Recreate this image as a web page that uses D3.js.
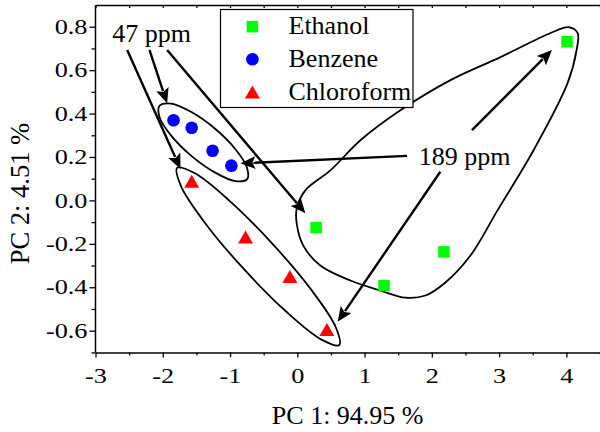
<!DOCTYPE html>
<html><head><meta charset="utf-8">
<script src="https://cdn.jsdelivr.net/npm/d3@7"></script>
<style>
body{margin:0;background:#fff}
svg{display:block}
text{font-family:"Liberation Serif","Times New Roman",serif;fill:#000}
</style>
</head><body>
<svg id="chart" width="600" height="432" font-family="Liberation Serif, Times New Roman, serif"></svg>
<script>
// ---------- data ----------
const seriesNames = ["Ethanol", "Benzene", "Chloroform"];
const seriesColors = ["#00ff00", "#0000ff", "#ff0000"];
const ethanolX = [0.28, 1.29, 2.18, 4.01];
const ethanolY = [-0.125, -0.393, -0.237, 0.731];
const benzeneX = [-1.84, -1.57, -1.26, -0.98];
const benzeneY = [0.369, 0.335, 0.229, 0.160];
const chloroformX = [-1.57, -0.77, -0.11, 0.44];
const chloroformY = [0.088, -0.169, -0.351, -0.594];
const xTicks = [-3, -2, -1, 0, 1, 2, 3, 4];
const yTicks = [-0.6, -0.4, -0.2, 0.0, 0.2, 0.4, 0.6, 0.8];
const xMinor = [-2.5, -1.5, -0.5, 0.5, 1.5, 2.5, 3.5, 4.5];
const yMinor = [-0.7, -0.5, -0.3, -0.1, 0.1, 0.3, 0.5, 0.7];
const xLabel = "PC 1: 94.95 %";
const yLabel = "PC 2: 4.51 %";
// annotation outlines (data units)
const benzeneLoop = [[-0.746,0.098],[-0.923,0.089],[-1.220,0.128],[-1.571,0.204],[-1.872,0.297],[-2.048,0.383],[-2.049,0.436],[-1.875,0.446],[-1.574,0.407],[-1.226,0.331],[-0.926,0.238],[-0.750,0.153]];
const chloroformLoop = [[0.625,-0.666],[0.360,-0.641],[-0.158,-0.514],[-0.789,-0.318],[-1.366,-0.106],[-1.729,0.066],[-1.787,0.150],[-1.521,0.125],[-1.003,-0.003],[-0.372,-0.199],[0.206,-0.411],[0.569,-0.582]];
const ethanolLoop = [[-0.010,-0.040],[0.119,0.046],[0.491,0.138],[0.938,0.277],[1.533,0.415],[2.277,0.554],[3.021,0.660],[3.765,0.771],[4.033,0.798],[4.167,0.771],[4.152,0.692],[4.018,0.540],[3.512,0.231],[2.976,-0.046],[2.574,-0.254],[2.202,-0.378],[1.905,-0.438],[1.607,-0.448],[1.235,-0.415],[0.789,-0.369],[0.342,-0.300],[0.089,-0.208],[-0.005,-0.115]];
// arrows: [x0, y0, x1, y1] in data units, head at the second point
const arrows = [[-2.529,0.693,-1.737,0.145],[-2.198,0.693,-1.935,0.447],[-1.935,0.693,0.120,-0.059],[1.632,0.205,-0.845,0.171],[2.597,0.324,3.786,0.693],[2.126,0.132,0.600,-0.559]];
const noteText = ["47 ppm", "189 ppm"];
const noteX = [-2.752, 1.804];
const noteY = [0.731, 0.163];

// ---------- layout ----------
const serif = '"Liberation Serif","Times New Roman",serif';
const svg = d3.select("#chart");
const x = d3.scaleLinear().domain([-3, 4.5]).range([95.5, 600]);
const y = d3.scaleLinear().domain([-0.7, 0.9]).range([352.4, 5]);
const L = 95.5, B = 352.4, T = 5;

// ---------- axes ----------
const fmtY = d => d.toFixed(1);
const bottomAxis = svg.append("g").attr("transform", `translate(0,${B})`)
  .call(d3.axisBottom(x).tickValues(xTicks).tickFormat(d => String(d)).tickSize(5).tickSizeOuter(0));
bottomAxis.append("g").call(d3.axisBottom(x).tickValues(xMinor).tickFormat("").tickSize(3).tickSizeOuter(0))
  .select(".domain").remove();
bottomAxis.selectAll(".tick text").attr("y", 30.3).attr("dy", 0)
  .style("font-size", "21px").attr("transform", "scale(1.25,1)");

const leftAxis = svg.append("g").attr("transform", `translate(${L},0)`)
  .call(d3.axisLeft(y).tickValues(yTicks).tickFormat(fmtY).tickSize(6).tickSizeOuter(0));
leftAxis.append("g").call(d3.axisLeft(y).tickValues(yMinor).tickFormat("").tickSize(4).tickSizeOuter(0))
  .select(".domain").remove();
leftAxis.selectAll(".tick text").attr("x", 0).attr("dy", "0.32em")
  .style("font-size", "21px").attr("transform", "translate(-8,0) scale(1.25,1)");

const topAxis = svg.append("g").attr("transform", `translate(0,${T})`)
  .call(d3.axisTop(x).tickValues(xTicks.concat(xMinor)).tickFormat("").tickSize(-3).tickSizeOuter(0));

[bottomAxis, leftAxis, topAxis].forEach(g => g.attr("font-family", serif));
svg.selectAll(".domain").attr("stroke", "#000").attr("stroke-width", 1.5);
svg.selectAll(".tick line").attr("stroke", "#000").attr("stroke-width", 1.3);
svg.selectAll(".tick text").attr("fill", "#000").attr("font-family", serif).style("font-family", serif);

// extend left axis to the top frame
leftAxis.select(".domain").attr("d", `M0,${B}V${T}`);

// axis titles
svg.append("text").attr("x", 347.7).attr("y", 424).attr("text-anchor", "middle")
  .style("font-size", "26px").text(xLabel);
svg.append("text").attr("transform", "translate(28.5,193.5) rotate(-90)").attr("text-anchor", "middle")
  .style("font-size", "26.5px").text(yLabel);

// ---------- loops ----------
const loopLine = d3.line().x(d => x(d[0])).y(d => y(d[1])).curve(d3.curveCatmullRomClosed.alpha(0.5));
[benzeneLoop, chloroformLoop, ethanolLoop].forEach(pts => {
  svg.append("path").attr("d", loopLine(pts)).attr("fill", "none")
    .attr("stroke", "#000").attr("stroke-width", 1.8);
});

// ---------- arrows ----------
const headLen = 15, headHalf = 6.5;
arrows.forEach(a => {
  const x0 = x(a[0]), y0 = y(a[1]), x1 = x(a[2]), y1 = y(a[3]);
  const dx = x1 - x0, dy = y1 - y0, len = Math.hypot(dx, dy);
  const ux = dx / len, uy = dy / len;
  const bx = x1 - ux * headLen, by = y1 - uy * headLen;
  svg.append("line").attr("x1", x0).attr("y1", y0).attr("x2", bx + ux * 2).attr("y2", by + uy * 2)
    .attr("stroke", "#000").attr("stroke-width", 2.4);
  svg.append("path")
    .attr("d", `M${x1},${y1}L${bx - uy * headHalf},${by + ux * headHalf}L${bx + ux * 3},${by + uy * 3}L${bx + uy * headHalf},${by - ux * headHalf}Z`)
    .attr("fill", "#000");
});

// notes
noteText.forEach((t, i) => {
  svg.append("text").attr("x", x(noteX[i])).attr("y", y(noteY[i])).style("font-size", "26px").text(t);
});

// ---------- markers ----------
const sq = 11.5, cr = 6.3, tw = 15, th = 13;
function drawMarker(g, kind, cx, cy, color) {
  if (kind === 0) {
    g.append("rect").attr("x", cx - sq / 2).attr("y", cy - sq / 2).attr("width", sq).attr("height", sq).attr("fill", color);
  } else if (kind === 1) {
    g.append("circle").attr("cx", cx).attr("cy", cy).attr("r", cr).attr("fill", color);
  } else {
    g.append("path").attr("d", `M${cx},${cy - th / 2}L${cx + tw / 2},${cy + th / 2}L${cx - tw / 2},${cy + th / 2}Z`).attr("fill", color);
  }
}
const seriesX = [ethanolX, benzeneX, chloroformX];
const seriesY = [ethanolY, benzeneY, chloroformY];
const markerLayer = svg.append("g");
seriesX.forEach((xs, s) => {
  xs.forEach((v, i) => drawMarker(markerLayer, s, x(v), y(seriesY[s][i]), seriesColors[s]));
});

// ---------- legend ----------
const lg = svg.append("g");
lg.append("rect").attr("x", 220.5).attr("y", 9.5).attr("width", 192.5).attr("height", 98)
  .attr("fill", "#fff").attr("stroke", "#000").attr("stroke-width", 1.2);
seriesNames.forEach((n, i) => {
  const cy = 26.7 + i * 32.6;
  drawMarker(lg, i, 252.4, cy, seriesColors[i]);
  lg.append("text").attr("x", 288.5).attr("y", 34.3 + i * 32.8).style("font-size", "26px").text(n);
});
</script>
</body></html>
